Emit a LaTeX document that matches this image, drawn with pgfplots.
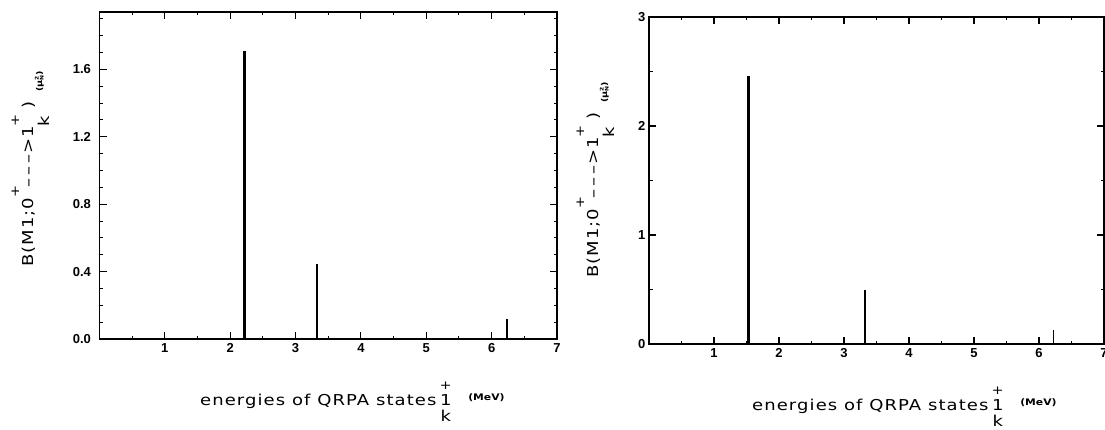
\documentclass[border=0pt]{standalone}
\usepackage{pgfplots}
\pgfplotsset{compat=1.18}
\usepackage{graphicx}
\usepackage{fontspec}
\setmainfont{Liberation Sans}
\newfontfamily\tickfont{Liberation Sans}
\newfontfamily\labfont{DejaVu Sans}[LetterSpace=6]
\newfontfamily\unitfont{DejaVu Sans}

\newcommand\plusk[2]{\rlap{\raisebox{#1}{\fontsize{12}{12}\labfont +}}\rlap{\raisebox{#2}{k}}}

\newcommand\ylab{\scalebox{1.2}[1]{\fontsize{15}{15}\labfont B(M1;0\rlap{\raisebox{14pt}{\fontsize{12}{12}\labfont +}}\hspace{8pt}–\hspace{2.5pt}–\hspace{2.5pt}–\hspace{1pt}>1\plusk{14pt}{-16pt}\hspace{15pt})\hspace{8pt}\raisebox{-9pt}{\fontsize{8}{8}\unitfont\bfseries (μ\rlap{\raisebox{3.5pt}{\fontsize{5}{5}\selectfont 2}}\raisebox{-1.5pt}{\fontsize{5}{5}\selectfont N})}}}

\newcommand\xlab{\scalebox{1.2}[1]{\fontsize{15}{15}\labfont energies of QRPA states\hspace{3pt}\setbox0\hbox{1}\rlap{\hbox to \wd0{\hss\raisebox{16pt}{\fontsize{12}{12}\labfont +}\hss}}\rlap{\hbox to \wd0{\hss\raisebox{-16pt}{k}\hss}}\box0\hspace{14pt}\raisebox{5pt}{\fontsize{9}{9}\unitfont\bfseries (MeV)}}}

\pgfplotsset{
  myaxis/.style={
    anchor=south west, scale only axis,
    xmin=0, xmax=7, ymin=0,
    tick align=inside,
    major tick length=7pt, minor tick length=3.5pt,
    axis line style={line width=1.6pt},
    every tick/.style={black, line width=1.1pt},
    every minor tick/.style={black, line width=1pt},
    ticklabel style={font=\fontsize{13}{13}\tickfont\bfseries},
    /pgf/number format/assume math mode=true,
    xtick={1,2,3,4,5,6,7},
    minor xtick={0.5,1.5,2.5,3.5,4.5,5.5,6.5},
    xticklabel style={yshift=-1pt},
  }
}

\begin{document}
\begin{tikzpicture}[x=1pt,y=1pt]
\begin{axis}[myaxis,
  at={(99.5pt,90pt)}, width=457.5pt, height=327pt,
  ymax=1.94,
  ytick={0,0.4,0.8,1.2,1.6},
  minor ytick={0.1,0.2,0.3,0.5,0.6,0.7,0.9,1.0,1.1,1.3,1.4,1.5,1.7,1.8,1.9},
  yticklabel style={xshift=-5pt, /pgf/number format/.cd, fixed, fixed zerofill, precision=1},
]
\addplot[ycomb, black, line width=2.2pt, mark=none] coordinates {(2.22,1.71)};
\addplot[ycomb, black, line width=1.8pt, mark=none] coordinates {(3.33,0.445) (6.24,0.12)};
\end{axis}
\begin{axis}[myaxis,
  at={(649pt,85pt)}, width=455pt, height=327pt,
  ymax=3,
  ytick={0,1,2,3},
  minor ytick={0.5,1.5,2.5},
]
\addplot[ycomb, black, line width=2.2pt, mark=none] coordinates {(1.53,2.46)};
\addplot[ycomb, black, line width=1.6pt, mark=none] coordinates {(3.32,0.50) (6.22,0.13)};
\end{axis}
\node[rotate=90, anchor=base west, inner sep=0pt] at (33,162) {\ylab};
\node[rotate=90, anchor=base west, inner sep=0pt] at (598,151) {\ylab};
\node[anchor=base west, inner sep=0pt] at (200,24) {\xlab};
\node[anchor=base west, inner sep=0pt] at (752,19) {\xlab};
\pgfresetboundingbox
\useasboundingbox (0,0) rectangle (1105,429);
\end{tikzpicture}
\end{document}
